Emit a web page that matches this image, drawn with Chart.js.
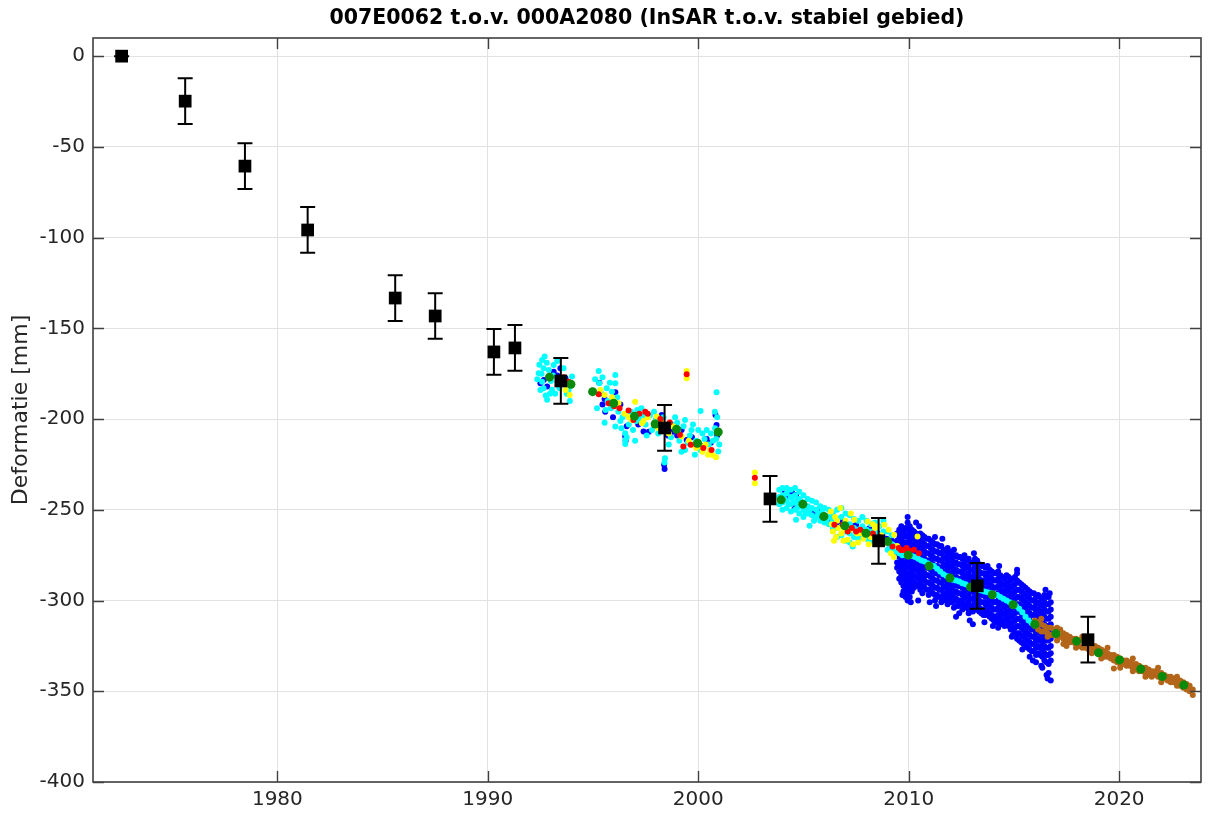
<!DOCTYPE html>
<html>
<head>
<meta charset="utf-8">
<script src="https://cdn.jsdelivr.net/npm/chart.js@4/dist/chart.umd.min.js"></script>
<style>
  body { margin: 0; background: #fff; }
  #wrap { width: 1210px; height: 817px; }
</style>
</head>
<body>
<div id="wrap"><canvas id="chart" width="1210" height="817"></canvas></div>
<script>
// ---- data ----
const titleText = '007E0062 t.o.v. 000A2080 (InSAR t.o.v. stabiel gebied)';
const yLabel = 'Deformatie [mm]';
const xTicks = [1980, 1990, 2000, 2010, 2020];
const yTicks = [0, -50, -100, -150, -200, -250, -300, -350, -400];

// levelling (black squares) with error bars
const levYears = [1972.6, 1975.62, 1978.46, 1981.44, 1985.6, 1987.5, 1990.29, 1991.29, 1993.47, 1998.4, 2003.41, 2008.57, 2013.26, 2018.52];
const levValues = [0, -24.8, -60.6, -95.8, -133.3, -143.2, -163, -160.8, -179, -204.9, -244, -267.1, -291.9, -321.6];
const levErrors = [0, 12.6, 12.6, 12.6, 12.6, 12.6, 12.6, 12.6, 12.6, 12.6, 12.6, 12.6, 12.6, 12.6];

// InSAR yearly means (green)
const greenPts = [[1992.93,-176.9],[1993.95,-180.8],[1994.98,-184.9],[1995.98,-191.3],[1996.97,-198.4],[1997.95,-202.7],
  [1998.97,-205.6],[1999.97,-213.3],[2000.95,-207.1],[2003.94,-244.5],[2004.97,-246.9],[2005.97,-253.7],[2006.97,-258.8],
  [2007.97,-262.9],[2009.0,-267.5],[2009.98,-275],[2010.97,-281],[2011.96,-287.6],[2012.94,-292.6],[2013.97,-296.8],
  [2014.96,-302.3],[2015.99,-313.1],[2017.0,-318.2],[2017.98,-322.4],[2019.02,-328.8],[2020.02,-332.7],[2021.03,-337.7],
  [2022.05,-341.8],[2023.07,-346.6]];

// cyan track
const cyanPts = [
  [1992.58,-167.4],[1992.7,-165.5],[1993.13,-170.2],[1992.42,-174.7],[1992.58,-179.4],[1992.82,-189.4],[1993.05,-183.9],
  [1992.5,-184],[1994.0,-176.6],[1993.84,-183.9],[1992.45,-170],[1992.55,-175],[1992.65,-183],[1992.75,-187],[1992.9,-173],
  [1993.0,-179],[1993.2,-186],[1993.3,-168],[1993.4,-183],[1993.6,-172],[1993.75,-186],[1993.9,-190],[1992.35,-178],
  [1992.8,-169],[1993.1,-176],[1992.65,-172],[1992.95,-186],[1993.65,-180],
  [1995.27,-173.5],[1996.06,-175.7],[1996.06,-180.3],[1995.3,-180.3],[1995.8,-180],[1995.19,-194],[1995.55,-202],
  [1996.06,-204.1],[1996.53,-207.8],[1996.53,-213.7],[1997.41,-197.7],[1999.37,-200.5],[1999.68,-206],[2000.11,-195.5],
  [2000.87,-185.2],[2000.79,-195.9],[2000.95,-217.9],[1999.84,-219.7],[1999.37,-217],[1998.42,-221.6],[1995.4,-186],
  [1995.7,-190],[1995.9,-185],[1996.2,-196],[1996.4,-199],[1996.7,-203],[1996.9,-206],[1997.2,-200],[1997.5,-203],
  [1997.7,-198],[1998.0,-200],[1998.2,-203],[1998.5,-206],[1998.7,-210],[1998.9,-199],[1999.1,-212],[1999.3,-204],
  [1999.6,-209],[1999.9,-212],[2000.1,-217],[2000.3,-211],[2000.5,-214],[2000.6,-208],[2000.8,-205],[1997.0,-212],
  [1996.6,-210],[1996.54,-211.5],[1998.4,-224],[1995.6,-195],[1996.3,-201],[1997.1,-195],[1997.8,-206],[1998.6,-214],
  [1999.5,-213],[2000.2,-208],[2000.7,-212],
  [1995.1,-178],[1995.45,-177],[1995.65,-183],[1995.85,-194],[1996.15,-188],[1996.35,-205],[1996.8,-196],[1997.05,-201],
  [1997.3,-194],[1997.55,-209],[1997.9,-196],[1998.1,-208],[1998.35,-199],[1998.75,-203],[1999.0,-202],[1999.2,-218],
  [1999.75,-203],[2000.0,-206],[2000.4,-206],[2000.9,-199],[2000.85,-211],[2001.0,-214],
  [2003.85,-239],[2003.85,-243],[2003.85,-247],[2004.0,-238],[2004.0,-242],[2004.0,-246],[2004.0,-250],[2004.2,-238],
  [2004.2,-241],[2004.2,-245],[2004.2,-249],[2004.4,-239],[2004.4,-243],[2004.4,-247],[2004.4,-251],[2004.6,-238],
  [2004.6,-242],[2004.6,-246],[2004.6,-250],[2004.65,-255.5],[2004.8,-240],[2004.8,-244],[2004.8,-248],[2004.8,-252],
  [2005.0,-242],[2005.0,-246],[2005.0,-250],[2005.0,-254],[2005.29,-258.8],[2005.2,-244],[2005.2,-248],[2005.2,-252],
  [2005.4,-245],[2005.4,-249],[2005.4,-253],[2005.6,-246],[2005.6,-250],[2005.6,-254],[2005.8,-248],[2005.8,-252],
  [2005.8,-256],[2006.0,-249],[2006.0,-253],[2006.0,-257],[2006.2,-250],[2006.2,-254],[2006.2,-258],[2006.4,-252],
  [2006.4,-256],[2006.4,-260],[2006.6,-250],[2006.6,-255],[2006.6,-260],[2006.6,-265],[2006.8,-249],[2006.8,-254],
  [2006.8,-259],[2006.8,-264],[2007.0,-252],[2007.0,-257],[2007.0,-262],[2007.0,-267],[2007.2,-253],[2007.2,-258],
  [2007.2,-263],[2007.2,-268],[2007.4,-255],[2007.4,-260],[2007.4,-265],[2007.34,-270.2],[2007.6,-256],[2007.6,-261],
  [2007.6,-266],[2007.8,-254],[2007.8,-259],[2007.8,-264],[2008.0,-256],[2008.0,-261],[2008.0,-266],[2008.2,-258],
  [2008.2,-262],[2008.2,-267],[2008.4,-257],[2008.4,-262],[2008.4,-266],[2008.6,-259],[2008.6,-264],[2008.6,-268],
  [2008.8,-256],[2008.8,-262],[2008.8,-268],[2009.0,-262],[2009.0,-267],[2009.0,-272],[2009.2,-264],[2009.2,-269],
  [2004.1,-244],[2004.3,-247],[2004.5,-244],[2004.7,-249],[2004.9,-246],[2005.1,-252],[2005.3,-250],[2005.5,-256],
  [2005.7,-252],[2005.9,-250],[2006.1,-256],[2006.3,-254],
  [2009.1,-270],[2009.25,-271.5],[2009.4,-273],[2009.55,-274],[2009.7,-275],[2009.85,-275],[2010.0,-275.5],
  [2010.15,-275.5],[2010.3,-276],[2010.45,-277],[2010.6,-278],[2010.75,-278.5],[2010.9,-279.5],[2011.05,-280.5],
  [2011.2,-281],[2011.35,-282.5],[2011.5,-284],[2011.65,-285.5],[2011.8,-286.5],[2011.95,-287.5],[2012.1,-288.5],
  [2012.25,-289],[2012.4,-289.5],[2012.55,-290.5],[2012.7,-291],[2012.85,-292],[2013.0,-292.5],[2013.15,-293.5],
  [2013.3,-294],[2013.45,-294.5],[2013.6,-295],[2013.75,-295.5],[2013.9,-296],[2014.05,-296.5],[2014.2,-297],
  [2014.35,-298],[2014.5,-299],[2014.65,-300],[2014.8,-301],[2014.95,-302],[2015.1,-303],[2015.25,-304.5],
  [2015.4,-306.5],[2015.55,-309],[2015.7,-311],[2015.85,-312.5],[2016.0,-313.5]];

// blue track: scattered points 1992-2009
const bluePts = [
  [1992.66,-178.4],[1992.5,-180.3],[1992.82,-182.1],[1993.13,-173.9],[1993.45,-172],[1993.69,-177.5],[1993.3,-176],
  [1995.3,-180],[1995.55,-189],[1996.06,-185.2],[1995.58,-195.9],[1996.53,-209.6],[1997.4,-206.9],[1998.26,-197.7],
  [1999.21,-206],[1999.45,-211.5],[2000.82,-197.7],[2000.87,-203.2],[1998.38,-225.2],[1998.4,-227.5],[1996.3,-192],
  [1997.9,-203],[1998.8,-207],[2000.0,-213],[2000.4,-211],
  [1995.45,-192],[1995.95,-199],[1996.6,-204],[1997.15,-203],[1997.65,-207],[1998.1,-204],[1998.55,-209],[1999.0,-209],
  [1999.7,-210],[2000.25,-215],[2000.6,-213],[2000.9,-209],[1996.55,-212],
  [2004.1,-241],[2004.26,-242.7],[2004.45,-240],[2004.65,-241.8],[2004.81,-244.5],[2005.05,-247.3],[2004.58,-249.1],
  [2005.29,-250],[2005.52,-251.8],[2005.7,-250],[2005.84,-252.8],[2006.1,-254],[2006.35,-256.5],[2006.63,-257.4],
  [2006.85,-256],[2007.1,-258.3],[2007.3,-259],[2007.5,-258.3],[2007.81,-261],[2008.13,-260.1],[2008.3,-262],
  [2008.52,-262.9],[2008.75,-264],[2008.95,-266],[2009.2,-267],
  [2010.1,-301],[2009.7,-297],[2011.3,-303],[2012.4,-307],[2013.6,-312],[2014.0,-314],[2014.9,-320],[2015.4,-327],
  [2015.9,-333],[2016.3,-336],[2016.6,-343],[2009.95,-254],[2010.5,-259],[2011.6,-266],[2013.1,-274],[2014.3,-281],
  [2015.15,-283],[2016.5,-294],[2016.7,-296],[2012.9,-311],[2011.0,-301]];

// blue track dense cloud 2009.4-2016.8 (columns: year, values)
const blueCloud = [
  [2009.45,[-263,-267,-271,-275,-279,-282]],
  [2009.55,[-261,-265,-268,-272,-276,-280,-284,-288]],
  [2009.65,[-259,-263,-267,-270,-274,-278,-282,-286,-290]],
  [2009.75,[-262,-265,-269,-273,-276,-280,-284,-288,-292,-295]],
  [2009.85,[-260,-264,-268,-271,-275,-279,-283,-286,-290,-294,-298]],
  [2009.95,[-257,-261,-265,-269,-273,-277,-281,-285,-288,-292,-296,-300]],
  [2010.05,[-259,-263,-267,-270,-274,-278,-282,-286,-290,-294,-298]],
  [2010.15,[-261,-265,-269,-273,-276,-280,-284,-288,-291,-295]],
  [2010.25,[-262,-266,-270,-274,-278,-282,-286,-290,-293]],
  [2010.35,[-257,-263,-267,-271,-275,-279,-283,-287,-291]],
  [2010.45,[-264,-268,-272,-276,-280,-284,-288,-292,-300]],
  [2010.55,[-263,-266,-270,-274,-278,-282,-286,-290,-294]],
  [2010.65,[-264,-268,-272,-276,-280,-284,-288,-292,-296]],
  [2010.75,[-265,-269,-273,-277,-281,-285,-289,-293]],
  [2010.85,[-266,-270,-274,-278,-282,-286,-290,-294]],
  [2010.95,[-266,-270,-274,-278,-282,-286,-290,-294,-297]],
  [2011.05,[-267,-271,-275,-279,-283,-287,-291,-295]],
  [2011.15,[-268,-272,-276,-280,-284,-288,-292,-296]],
  [2011.25,[-265,-269,-273,-277,-281,-285,-289,-293,-297,-300]],
  [2011.35,[-269,-273,-277,-281,-285,-289,-293,-297]],
  [2011.45,[-270,-274,-278,-282,-286,-290,-294,-298]],
  [2011.55,[-270,-274,-278,-282,-286,-290,-294,-298,-301]],
  [2011.65,[-272,-276,-280,-284,-288,-292,-296,-299]],
  [2011.75,[-273,-277,-281,-285,-289,-293,-297,-300]],
  [2011.85,[-271,-275,-279,-283,-287,-291,-295,-299,-302]],
  [2011.95,[-273,-277,-281,-285,-289,-293,-297,-300]],
  [2012.05,[-274,-278,-282,-286,-290,-294,-298,-301]],
  [2012.15,[-272,-276,-280,-284,-288,-292,-296,-300,-304]],
  [2012.25,[-275,-279,-283,-287,-291,-295,-299,-303,-309]],
  [2012.35,[-276,-280,-284,-288,-292,-296,-300,-303]],
  [2012.45,[-276,-280,-284,-288,-292,-296,-300,-302]],
  [2012.55,[-277,-281,-285,-289,-293,-297,-301,-305]],
  [2012.65,[-275,-279,-283,-287,-291,-295,-299,-303]],
  [2012.75,[-278,-282,-286,-290,-294,-298,-302,-304]],
  [2012.85,[-277,-281,-285,-289,-293,-297,-301,-305,-307]],
  [2012.95,[-279,-283,-287,-291,-295,-299,-303,-306]],
  [2013.05,[-279,-283,-287,-291,-295,-299,-303,-306,-313]],
  [2013.15,[-277,-281,-285,-289,-293,-297,-301,-305]],
  [2013.25,[-278,-282,-286,-290,-294,-298,-302,-305]],
  [2013.35,[-280,-284,-288,-292,-296,-300,-304,-306]],
  [2013.45,[-281,-285,-289,-293,-297,-301,-305,-307]],
  [2013.55,[-281,-285,-289,-293,-297,-301,-305,-308]],
  [2013.65,[-282,-286,-290,-294,-298,-302,-306,-308]],
  [2013.75,[-281,-285,-289,-293,-297,-301,-305,-307]],
  [2013.85,[-283,-287,-291,-295,-299,-303,-307,-309]],
  [2013.95,[-284,-288,-292,-296,-300,-304,-308,-310]],
  [2014.05,[-285,-289,-293,-297,-301,-305,-309,-311]],
  [2014.15,[-285,-289,-293,-297,-301,-305,-309,-312]],
  [2014.25,[-284,-288,-292,-296,-300,-304,-308,-311,-315]],
  [2014.35,[-286,-290,-294,-298,-302,-306,-310,-313]],
  [2014.45,[-287,-291,-295,-299,-303,-307,-311,-313]],
  [2014.55,[-288,-292,-296,-300,-304,-308,-312,-314]],
  [2014.65,[-286,-290,-294,-298,-302,-306,-310,-313]],
  [2014.75,[-287,-291,-295,-299,-303,-307,-311,-314]],
  [2014.85,[-289,-293,-297,-301,-305,-309,-313,-316]],
  [2014.95,[-288,-292,-296,-300,-304,-308,-312,-316,-319]],
  [2015.05,[-287,-291,-295,-299,-303,-307,-311,-315,-318]],
  [2015.15,[-285,-289,-294,-298,-302,-306,-310,-314,-318,-321]],
  [2015.25,[-290,-294,-298,-302,-306,-310,-314,-318,-322]],
  [2015.35,[-291,-295,-299,-303,-307,-311,-315,-319,-323]],
  [2015.45,[-292,-296,-300,-304,-308,-312,-316,-320,-324]],
  [2015.55,[-293,-297,-301,-305,-309,-313,-317,-321,-325]],
  [2015.65,[-294,-298,-302,-306,-310,-314,-318,-322,-326]],
  [2015.75,[-295,-299,-303,-307,-311,-315,-319,-323,-327,-331]],
  [2015.85,[-296,-300,-304,-308,-312,-316,-320,-324,-328]],
  [2015.95,[-296,-300,-304,-308,-312,-316,-320,-324,-328]],
  [2016.05,[-298,-302,-306,-310,-314,-318,-322,-326,-330,-334]],
  [2016.15,[-297,-301,-305,-309,-313,-317,-321,-325,-329]],
  [2016.25,[-298,-302,-306,-310,-314,-318,-322,-326,-330]],
  [2016.35,[-299,-303,-307,-311,-315,-319,-323,-327,-331,-337]],
  [2016.45,[-297,-301,-305,-309,-313,-317,-321,-325,-329,-333]],
  [2016.55,[-298,-302,-306,-310,-314,-318,-322,-326,-330,-334,-341]],
  [2016.65,[-298,-302,-306,-310,-314,-318,-322,-326,-330,-335,-340]],
  [2016.75,[-301,-305,-309,-313,-317,-321,-325,-329,-333,-344]]];

// yellow track
const yellowPts = [
  [1993.89,-186.7],[1993.84,-181],[1993.7,-184],
  [1995.55,-186.7],[1996.21,-191.3],[1997.0,-190.4],[1996.84,-200.5],[1997.32,-202.3],[1998.03,-198.6],[1999.21,-209.6],
  [1999.68,-214.2],[2000.47,-219.7],[1999.45,-173.5],[1999.45,-177.5],[1995.9,-188],[1996.5,-197],[1997.6,-199],
  [1998.3,-202],[1998.8,-204],[1999.9,-216],[2000.2,-218],[2000.7,-220],[2000.35,-214],
  [1995.35,-184],[1996.0,-190],[1996.7,-199],[1997.4,-201],[1998.1,-205],[1998.6,-208],[1999.05,-206],[1999.55,-212],
  [2000.1,-215],[2000.55,-217],[2000.85,-221],
  [2002.69,-229.5],[2002.69,-235.3],
  [2006.3,-251],[2006.35,-258],[2006.4,-262],[2006.5,-254],[2006.55,-265],[2006.65,-260],[2006.75,-249],[2006.8,-263],
  [2006.9,-267],[2007.0,-256],[2007.1,-266.5],[2007.2,-261],[2007.35,-269],[2007.42,-255.5],[2007.55,-263],
  [2007.73,-262.9],[2007.85,-266],[2008.05,-256.5],[2008.2,-265],[2008.4,-260],[2008.52,-259.2],[2008.7,-264],
  [2008.84,-258.3],[2008.95,-268],[2009.15,-273.9],[2009.31,-263.8],[2009.45,-270],[2010.42,-264.7],[2009.05,-261],
  [2009.3,-276],[2006.45,-267],[2007.25,-252],[2008.1,-269],[2006.6,-256],[2006.95,-261],[2007.6,-268],[2008.3,-258]];

// red track
const redPts = [
  [1993.84,-179.4],[1993.6,-177],
  [1995.27,-186.3],[1995.74,-191.3],[1996.26,-194],[1996.69,-195.3],[1996.92,-200.5],[1997.48,-195.9],[1997.6,-197],
  [1998.65,-201.9],[1999.13,-208.7],[1999.29,-215.1],[1999.64,-214.2],[2000.24,-216],[2000.63,-217],[1999.45,-175.3],
  [1996.0,-193],[1997.2,-197],[1998.2,-200],[1999.9,-214],
  [2002.69,-232.3],
  [2006.47,-258.3],[2006.86,-258.3],[2007.1,-262],[2007.5,-262],[2007.3,-260],[2007.7,-261],[2008.05,-262.9],
  [2008.3,-263],[2008.6,-265],[2009.23,-270.2],[2009.53,-271.1],[2009.63,-272.1],[2009.77,-272.1],[2009.9,-271],
  [2010.05,-272.5],[2010.25,-272],[2010.48,-273.9]];

// brown track (columns: year, values)
const brownCols = [
  [2016.0,[-311,-314]],[2016.15,[-312,-316]],[2016.3,[-310,-313,-317]],[2016.45,[-314,-317]],[2016.6,[-315,-318,-320]],
  [2016.75,[-315,-319]],[2016.9,[-316,-319]],[2017.05,[-315,-317,-320,-322]],[2017.2,[-316,-320]],[2017.35,[-318,-321,-324]],
  [2017.5,[-319,-322,-325]],[2017.65,[-320,-323]],[2017.8,[-321,-323]],[2017.95,[-321,-324,-326]],[2018.1,[-322,-325]],
  [2018.25,[-320,-322,-326]],[2018.4,[-323,-326]],[2018.55,[-324,-327]],[2018.7,[-325,-327,-329]],[2018.85,[-325,-328]],
  [2019.0,[-326,-329]],[2019.15,[-327,-330,-332]],[2019.3,[-328,-331]],[2019.45,[-326,-329,-331]],[2019.6,[-330,-332]],
  [2019.75,[-330,-333,-337.5]],[2019.9,[-331,-334]],[2020.05,[-332,-335,-337]],[2020.2,[-333,-335]],[2020.35,[-333,-336]],
  [2020.5,[-334,-336]],[2020.65,[-332,-335,-337,-339]],[2020.8,[-335,-338]],[2020.95,[-336,-339]],[2021.1,[-337,-339]],
  [2021.25,[-337,-340,-342]],[2021.4,[-338,-341]],[2021.55,[-339,-342]],[2021.7,[-339,-341]],[2021.85,[-337,-340,-342]],
  [2022.0,[-340,-343,-345]],[2022.15,[-341,-343]],[2022.3,[-342,-344]],[2022.45,[-342,-345]],[2022.6,[-343,-345]],
  [2022.75,[-342,-344,-346,-347]],[2022.9,[-344,-347]],[2023.05,[-345,-348]],[2023.2,[-346,-349]],[2023.35,[-347,-350]],
  [2023.5,[-349,-352]]];

// ---- build chart ----
function pairs(list) { return list.map(p => ({x: p[0], y: p[1]})); }
function cols(list) {
  const out = [];
  for (const c of list) for (const v of c[1]) out.push({x: c[0], y: v});
  return out;
}

const levPoints = levYears.map((yr, i) => ({x: yr, y: levValues[i]}));
const axisColor = '#404040';
const textColor = '#262626';
const tickFont = {family: '"DejaVu Sans"', size: 20};

function insar(label, data, color, r) {
  return {label: label, data: data, backgroundColor: color, borderWidth: 0, pointRadius: r, pointHoverRadius: r};
}

// box, inward ticks, error bars and title
const framePlugin = {
  id: 'frame',
  afterDatasetsDraw(chart) {
    const ctx = chart.ctx;
    const xs = chart.scales.x, ys = chart.scales.y;
    ctx.save();
    ctx.strokeStyle = '#000';
    ctx.lineWidth = 2;
    levYears.forEach((yr, i) => {
      const px = xs.getPixelForValue(yr);
      const top = ys.getPixelForValue(levValues[i] + levErrors[i]);
      const bot = ys.getPixelForValue(levValues[i] - levErrors[i]);
      ctx.beginPath();
      ctx.moveTo(px, top); ctx.lineTo(px, bot);
      ctx.moveTo(px - 7.5, top); ctx.lineTo(px + 7.5, top);
      ctx.moveTo(px - 7.5, bot); ctx.lineTo(px + 7.5, bot);
      ctx.stroke();
    });
    ctx.restore();
  },
  afterDraw(chart) {
    const ctx = chart.ctx;
    const a = chart.chartArea;
    const xs = chart.scales.x, ys = chart.scales.y;
    ctx.save();
    ctx.strokeStyle = axisColor;
    ctx.lineWidth = 1.4;
    ctx.beginPath();
    for (const v of xTicks) {
      const px = Math.round(xs.getPixelForValue(v)) + 0.5;
      ctx.moveTo(px, a.bottom); ctx.lineTo(px, a.bottom - 11);
      ctx.moveTo(px, a.top); ctx.lineTo(px, a.top + 11);
    }
    for (const v of yTicks) {
      const py = Math.round(ys.getPixelForValue(v)) + 0.5;
      ctx.moveTo(a.left, py); ctx.lineTo(a.left + 11, py);
      ctx.moveTo(a.right, py); ctx.lineTo(a.right - 11, py);
    }
    ctx.stroke();
    ctx.lineWidth = 1.6;
    ctx.strokeRect(a.left, a.top, a.right - a.left, a.bottom - a.top);
    ctx.fillStyle = '#000';
    ctx.font = 'bold 20.5px "DejaVu Sans"';
    ctx.textAlign = 'center';
    ctx.textBaseline = 'middle';
    ctx.fillText(titleText, (a.left + a.right) / 2, 19);
    ctx.restore();
  }
};

// first dataset is drawn on top in Chart.js
new Chart(document.getElementById('chart'), {
  type: 'scatter',
  data: {
    datasets: [
      {label: 'waterpassing', data: levPoints, backgroundColor: '#000', borderWidth: 0,
       pointStyle: 'rect', pointRadius: 9, pointHoverRadius: 9},
      insar('mean', pairs(greenPts), '#0a8a0a', 4.5),
      insar('brown', cols(brownCols), '#b3661a', 3),
      insar('red', pairs(redPts), '#ff0000', 3),
      insar('yellow', pairs(yellowPts), '#ffff00', 3),
      insar('cyan', pairs(cyanPts), '#00ffff', 3),
      insar('blue', pairs(bluePts).concat(cols(blueCloud)), '#0000ff', 3)
    ]
  },
  options: {
    responsive: false,
    animation: false,
    devicePixelRatio: 1,
    layout: {padding: {top: 38, right: 6, left: 0, bottom: 0}},
    plugins: {legend: {display: false}, tooltip: {enabled: false}, title: {display: false}},
    scales: {
      x: {
        type: 'linear', min: 1971.24, max: 2023.89,
        afterBuildTicks: s => { s.ticks = xTicks.map(v => ({value: v})); },
        afterFit: s => { s.height = 35; },
        ticks: {font: tickFont, color: textColor, padding: 6, maxRotation: 0, callback: v => String(v)},
        grid: {color: '#e2e2e2', lineWidth: 1, drawTicks: false},
        border: {display: false}
      },
      y: {
        type: 'linear', min: -400, max: 10,
        afterBuildTicks: s => { s.ticks = yTicks.map(v => ({value: v})); },
        afterFit: s => { s.width = 93; },
        ticks: {font: tickFont, color: textColor, padding: 8, callback: v => String(v)},
        grid: {color: '#e2e2e2', lineWidth: 1, drawTicks: false},
        border: {display: false},
        title: {display: true, text: yLabel, color: textColor, font: {family: '"DejaVu Sans"', size: 22},
                padding: {top: 8, bottom: 0}}
      }
    }
  },
  plugins: [framePlugin]
});
</script>
</body>
</html>
